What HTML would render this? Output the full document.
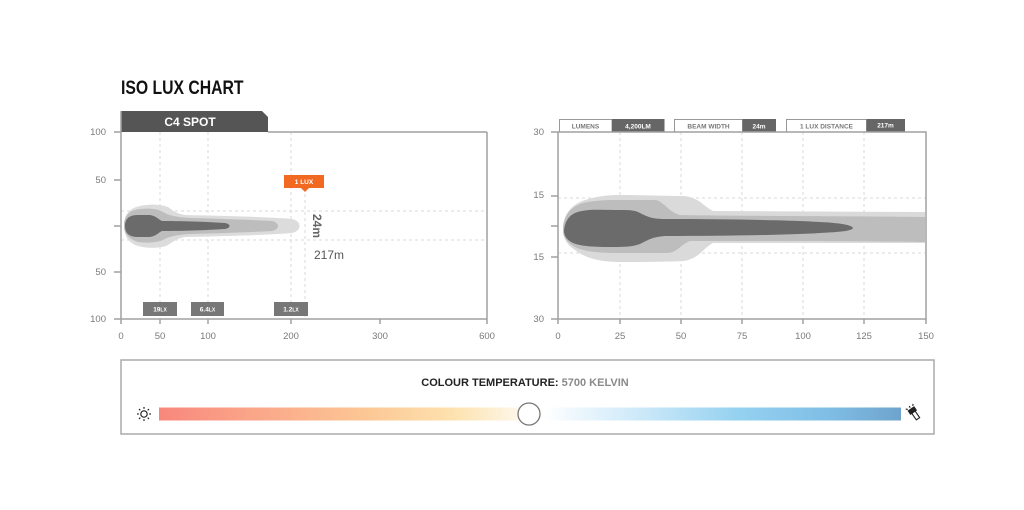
<!DOCTYPE html>
<html>
<head>
<meta charset="utf-8">
<style>
html,body{margin:0;padding:0;background:#fff;}
body{width:1024px;height:510px;overflow:hidden;}
svg{display:block;font-family:"Liberation Sans",sans-serif;}
</style>
</head>
<body>
<svg width="1024" height="510" viewBox="0 0 1024 510" xmlns="http://www.w3.org/2000/svg">
<defs>
<linearGradient id="ct" x1="0" y1="0" x2="1" y2="0">
<stop offset="0" stop-color="#f8877c"/>
<stop offset="0.12" stop-color="#faa488"/>
<stop offset="0.28" stop-color="#fcc795"/>
<stop offset="0.40" stop-color="#fde3b0"/>
<stop offset="0.47" stop-color="#fdf3df"/>
<stop offset="0.52" stop-color="#ffffff"/>
<stop offset="0.56" stop-color="#eef7fd"/>
<stop offset="0.66" stop-color="#c8e7f8"/>
<stop offset="0.78" stop-color="#95d1f0"/>
<stop offset="0.90" stop-color="#80bee6"/>
<stop offset="1" stop-color="#6ea3cc"/>
</linearGradient>
</defs>

<!-- Title -->
<text x="121" y="94" font-size="19" font-weight="bold" fill="#111" transform="translate(121 0) scale(0.83 1) translate(-121 0)">ISO LUX CHART</text>

<!-- ===== LEFT CHART ===== -->
<polygon points="121,132 121,111 262,111 268,117 268,132" fill="#555"/>
<text x="190" y="126" font-size="12" font-weight="bold" fill="#fff" text-anchor="middle">C4 SPOT</text>

<g stroke="#d8d8d8" stroke-width="1" stroke-dasharray="3,3" fill="none">
<line x1="160" y1="132" x2="160" y2="319"/>
<line x1="208" y1="132" x2="208" y2="319"/>
<line x1="291" y1="132" x2="291" y2="319"/>
<line x1="305" y1="188" x2="305" y2="319"/>
<line x1="121" y1="211" x2="487" y2="211"/>
<line x1="121" y1="240" x2="487" y2="240"/>
</g>

<path d="M124,226 C124,214 130,208 140,206 C148,204 160,204 168,207 C172,210 175,213 185,215 C230,216 270,217 292,219 C302,221 302,231 292,233 C270,235 230,236 185,237 C175,239 172,243 166,246 C155,249 143,248 135,245 C127,241 124,234 124,226 Z" fill="#dcdcdc"/>
<path d="M124,226 C124,215 130,210 140,209 C150,208 158,209 163,212 C168,215 175,217 190,218 C230,219 255,220 272,221 C280,223 280,229 272,231 C255,232 230,233 190,234 C175,235 168,237 163,240 C156,243 145,243 138,242 C128,239 124,233 124,226 Z" fill="#bdbdbd"/>
<path d="M125,226 C125,218 130,215 138,215 L150,215 C156,216 158,219 162,221 C185,221 210,222 225,223 C231,224 231,228 225,229 C210,230 185,231 162,231 C158,233 156,236 150,237 L138,237 C130,237 125,234 125,226 Z" fill="#6b6b6b"/>

<g stroke="#a0a0a0" stroke-width="1.5" fill="none">
<line x1="268" y1="132" x2="487" y2="132"/>
<line x1="487" y1="132" x2="487" y2="319"/>
<line x1="121" y1="111" x2="121" y2="319"/>
<line x1="121" y1="319" x2="487" y2="319"/>
<line x1="114" y1="132" x2="121" y2="132"/>
<line x1="114" y1="180" x2="121" y2="180"/>
<line x1="114" y1="226" x2="121" y2="226"/>
<line x1="114" y1="272" x2="121" y2="272"/>
<line x1="114" y1="319" x2="121" y2="319"/>
<line x1="121" y1="319" x2="121" y2="324"/>
<line x1="160" y1="319" x2="160" y2="324"/>
<line x1="208" y1="319" x2="208" y2="324"/>
<line x1="291" y1="319" x2="291" y2="324"/>
<line x1="380" y1="319" x2="380" y2="324"/>
<line x1="487" y1="319" x2="487" y2="324"/>
</g>

<g font-size="9.5" fill="#7a7a7a" text-anchor="end">
<text x="106" y="135">100</text>
<text x="106" y="183">50</text>
<text x="106" y="275">50</text>
<text x="106" y="322">100</text>
</g>
<g font-size="9.5" fill="#7a7a7a" text-anchor="middle">
<text x="121" y="339">0</text>
<text x="160" y="339">50</text>
<text x="208" y="339">100</text>
<text x="291" y="339">200</text>
<text x="380" y="339">300</text>
<text x="487" y="339">600</text>
</g>

<rect x="284" y="175" width="40" height="13" fill="#f26a21"/>
<polygon points="301,188 309,188 305,192" fill="#f26a21"/>
<text x="304" y="184" font-size="6.5" font-weight="bold" fill="#fff" text-anchor="middle">1 LUX</text>

<text x="0" y="0" font-size="12" font-weight="bold" fill="#666" text-anchor="middle" transform="translate(313 226) rotate(90)">24m</text>
<text x="314" y="259" font-size="12" fill="#555">217m</text>

<rect x="143" y="302" width="34" height="14" fill="#777"/>
<rect x="191" y="302" width="33" height="14" fill="#777"/>
<rect x="274" y="302" width="34" height="14" fill="#777"/>
<g font-size="6.5" font-weight="bold" fill="#fff" text-anchor="middle">
<text x="160" y="311.5">19<tspan font-size="5">LX</tspan></text>
<text x="207.5" y="311.5">6.4<tspan font-size="5">LX</tspan></text>
<text x="291" y="311.5">1.2<tspan font-size="5">LX</tspan></text>
</g>

<!-- ===== RIGHT CHART ===== -->
<rect x="559.5" y="119.5" width="52.5" height="12.5" fill="#fff" stroke="#999" stroke-width="1"/>
<rect x="612" y="119" width="52.5" height="13" fill="#666"/>
<rect x="674.5" y="119.5" width="68" height="12.5" fill="#fff" stroke="#999" stroke-width="1"/>
<rect x="742.5" y="119" width="33.5" height="13" fill="#666"/>
<rect x="786.5" y="119.5" width="80" height="12.5" fill="#fff" stroke="#999" stroke-width="1"/>
<rect x="866.5" y="119" width="38.5" height="13" fill="#666"/>
<g font-size="6.5" font-weight="bold" text-anchor="middle">
<text x="585.5" y="128.5" fill="#777">LUMENS</text>
<text x="638" y="128.5" fill="#fff">4,200LM</text>
<text x="708.5" y="128.5" fill="#777">BEAM WIDTH</text>
<text x="759" y="128.5" fill="#fff">24m</text>
<text x="826.5" y="128.5" fill="#777">1 LUX DISTANCE</text>
<text x="885.5" y="127.5" fill="#fff">217m</text>
</g>

<g stroke="#d8d8d8" stroke-width="1" stroke-dasharray="3,3" fill="none">
<line x1="620" y1="132" x2="620" y2="319"/>
<line x1="681" y1="132" x2="681" y2="319"/>
<line x1="742" y1="132" x2="742" y2="319"/>
<line x1="803" y1="132" x2="803" y2="319"/>
<line x1="864" y1="132" x2="864" y2="319"/>
<line x1="558" y1="198" x2="926" y2="198"/>
<line x1="558" y1="253" x2="926" y2="253"/>
</g>

<path d="M563,230 C563,214 572,204 585,200 C598,196 608,195 620,195 C640,195 660,196 684,196 C700,198 703,206 713,211 L925,212 L925,243 L713,243 C703,248 700,258 684,261 C660,262 640,262 620,262 C600,262 585,258 575,250 C566,244 563,237 563,230 Z" fill="#dadada"/>
<path d="M563,230 C563,216 570,207 583,203 C595,200 610,200 620,200 L655,200 C664,201 668,212 680,215 C720,216 860,216 925,217 L925,242 C860,241 720,241 690,241 C680,245 678,252 668,253 L620,253 C600,253 585,252 575,247 C566,242 563,236 563,230 Z" fill="#bdbdbd"/>
<path d="M564,231 C565,220 570,213 582,211 C592,209 600,210 620,210 C630,210 634,210 640,213 C648,217 652,219 665,219 C720,219 790,220 820,222 C840,223 852,225 853,228 C852,231 840,232 820,233 C790,235 720,236 665,236 C652,237 648,240 640,244 C632,247 622,247 610,247 C592,247 580,246 573,243 C567,240 564,236 564,231 Z" fill="#6b6b6b"/>

<g stroke="#a0a0a0" stroke-width="1.5" fill="none">
<rect x="558" y="132" width="368" height="187"/>
<line x1="551" y1="132" x2="558" y2="132"/>
<line x1="551" y1="196" x2="558" y2="196"/>
<line x1="551" y1="226" x2="558" y2="226"/>
<line x1="551" y1="257" x2="558" y2="257"/>
<line x1="551" y1="319" x2="558" y2="319"/>
<line x1="558" y1="319" x2="558" y2="324"/>
<line x1="620" y1="319" x2="620" y2="324"/>
<line x1="681" y1="319" x2="681" y2="324"/>
<line x1="742" y1="319" x2="742" y2="324"/>
<line x1="803" y1="319" x2="803" y2="324"/>
<line x1="864" y1="319" x2="864" y2="324"/>
<line x1="926" y1="319" x2="926" y2="324"/>
</g>
<g font-size="9.5" fill="#7a7a7a" text-anchor="end">
<text x="544" y="135">30</text>
<text x="544" y="198">15</text>
<text x="544" y="260">15</text>
<text x="544" y="322">30</text>
</g>
<g font-size="9.5" fill="#7a7a7a" text-anchor="middle">
<text x="558" y="339">0</text>
<text x="620" y="339">25</text>
<text x="681" y="339">50</text>
<text x="742" y="339">75</text>
<text x="803" y="339">100</text>
<text x="864" y="339">125</text>
<text x="926" y="339">150</text>
</g>

<!-- ===== COLOUR TEMPERATURE ===== -->
<rect x="121" y="360" width="813" height="74" fill="#fff" stroke="#aaa" stroke-width="1.5"/>
<text x="525" y="386" font-size="11" font-weight="bold" fill="#222" text-anchor="middle">COLOUR TEMPERATURE: <tspan fill="#8a8a8a">5700 KELVIN</tspan></text>
<rect x="159" y="407.5" width="742" height="13" fill="url(#ct)"/>
<circle cx="529" cy="414" r="11" fill="#fff" stroke="#777" stroke-width="1.3"/>

<g stroke="#222" stroke-width="1.2" fill="none">
<circle cx="144" cy="414" r="3.2"/>
<line x1="144" y1="407" x2="144" y2="408.8"/>
<line x1="144" y1="419.2" x2="144" y2="421"/>
<line x1="137" y1="414" x2="138.8" y2="414"/>
<line x1="149.2" y1="414" x2="151" y2="414"/>
<line x1="139" y1="409" x2="140.3" y2="410.3"/>
<line x1="147.7" y1="417.7" x2="149" y2="419"/>
<line x1="149" y1="409" x2="147.7" y2="410.3"/>
<line x1="140.3" y1="417.7" x2="139" y2="419"/>
</g>

<g transform="translate(914 413) rotate(-35)" stroke="#222" stroke-width="1.1" fill="none">
<rect x="-2" y="-1" width="4" height="8" fill="#fff"/>
<path d="M-3.5,-1 L-3.5,-5 L3.5,-5 L3.5,-1 Z" fill="#222"/>
<line x1="0" y1="-6.5" x2="0" y2="-8.5"/>
<line x1="-3" y1="-6.5" x2="-4.5" y2="-8"/>
<line x1="3" y1="-6.5" x2="4.5" y2="-8"/>
</g>
</svg>
</body>
</html>
